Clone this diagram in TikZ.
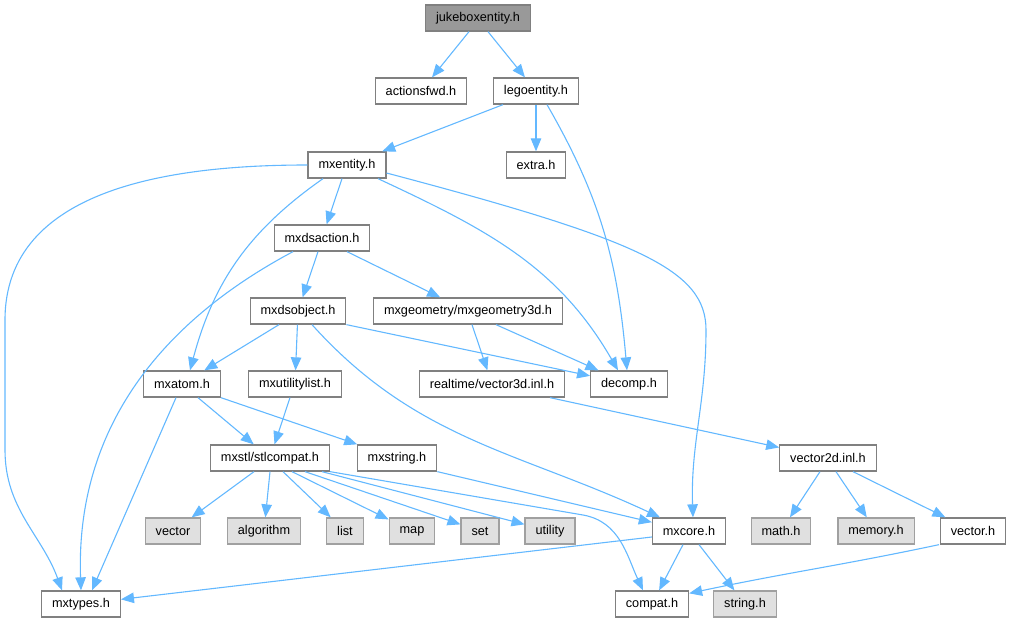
\documentclass[tikz,border=0pt]{standalone}
\usepackage{fontspec}
\setmainfont{Liberation Sans}
\usetikzlibrary{arrows.meta}
\definecolor{edgeblue}{HTML}{63B8FF}
\definecolor{boxline}{HTML}{808080}
\definecolor{sysline}{HTML}{A0A0A0}
\definecolor{sysfill}{HTML}{E0E0E0}
\definecolor{topfill}{HTML}{999999}
\tikzset{
  hdr/.style={draw=boxline, fill=white, line width=1.3pt, minimum height=26pt, inner xsep=10.4pt, inner ysep=0pt, font=\fontsize{12.7}{15}\selectfont},
  syshdr/.style={hdr, draw=sysline, fill=sysfill},
  tophdr/.style={hdr, fill=topfill},
  edge/.style={draw=edgeblue, line width=1.1pt, -{Triangle[length=13pt,width=10.5pt]}}
}
\begin{document}
\begin{tikzpicture}[x=1pt, y=1pt]
\useasboundingbox (0,0) rectangle (1013,-623);

% header files
\node[tophdr] (juke) at (478,-18) {jukeboxentity.h};
\node[hdr] (actfwd) at (421,-91) {actionsfwd.h};
\node[hdr] (lego) at (536,-91) {legoentity.h};
\node[hdr] (mxent) at (347,-165) {mxentity.h};
\node[hdr] (extra) at (536,-165) {extra.h};
\node[hdr] (dsact) at (322,-238) {mxdsaction.h};
\node[hdr] (dsobj) at (298,-311) {mxdsobject.h};
\node[hdr] (geom3d) at (468,-311) {mxgeometry/mxgeometry3d.h};
\node[hdr] (atom) at (182,-384) {mxatom.h};
\node[hdr] (utillist) at (295,-384) {mxutilitylist.h};
\node[hdr] (vec3d) at (492,-384) {realtime/vector3d.inl.h};
\node[hdr] (decomp) at (629,-384) {decomp.h};
\node[hdr] (stl) at (270,-458) {mxstl/stlcompat.h};
\node[hdr] (mxstr) at (397,-458) {mxstring.h};
\node[hdr] (vec2d) at (828,-458) {vector2d.inl.h};
\node[hdr] (mxcore) at (689,-531) {mxcore.h};
\node[hdr] (vech) at (973,-531) {vector.h};
\node[hdr] (mxtypes) at (81,-604) {mxtypes.h};
\node[hdr] (compat) at (652,-604) {compat.h};

% system headers
\node[syshdr] (vector) at (173,-531) {vector};
\node[syshdr] (algorithm) at (264,-531) {algorithm};
\node[syshdr] (list) at (345,-531) {list};
\node[syshdr] (map) at (412,-531) {map};
\node[syshdr] (set) at (480,-531) {set};
\node[syshdr] (utility) at (550,-531) {utility};
\node[syshdr] (math) at (781,-531) {math.h};
\node[syshdr] (memory) at (876,-531) {memory.h};
\node[syshdr] (string) at (745,-604) {string.h};

% includes
\draw[edge] ([xshift=-9pt]juke.south) -- (actfwd);
\draw[edge] ([xshift=10pt]juke.south) -- (lego);
\draw[edge] ([xshift=-33pt]lego.south) -- (mxent);
\draw[edge] (lego) -- (extra);
\draw[edge] ([xshift=11pt]lego.south) to[out=-60,in=95] ([xshift=-2pt]decomp.north);

\draw[edge] (mxent.west) to[out=180,in=90] (5,-320) -- (5,-450) to[out=-90,in=110] ([xshift=-19pt]mxtypes.north);
\draw[edge] ([xshift=-24pt]mxent.south) to[out=-145,in=75] ([xshift=8pt]atom.north);
\draw[edge] ([xshift=-5pt]mxent.south) -- (dsact);
\draw[edge] ([xshift=31pt]mxent.south) to[out=-25,in=120] ([xshift=-11pt]decomp.north);
\draw[edge] ([yshift=-8pt]mxent.east) .. controls (640,-240) and (706,-270) .. (706,-330) to[out=-90,in=92] ([xshift=4pt]mxcore.north);

\draw[edge] ([xshift=-29pt]dsact.south) to[out=-152,in=92] (mxtypes.north);
\draw[edge] ([xshift=-4pt]dsact.south) -- (dsobj);
\draw[edge] ([xshift=25pt]dsact.south) -- (geom3d);

\draw[edge] ([xshift=-19pt]dsobj.south) -- (atom);
\draw[edge] (dsobj) -- (utillist);
\draw[edge] (dsobj.south east) -- (decomp);
\draw[edge] ([xshift=14pt]dsobj.south) to[out=-48,in=155] ([xshift=-29pt]mxcore.north);

\draw[edge] ([xshift=4pt]geom3d.south) -- (vec3d);
\draw[edge] ([xshift=28pt]geom3d.south) -- (decomp);

\draw[edge] ([xshift=-6pt]atom.south) -- ([xshift=11pt]mxtypes.north);
\draw[edge] ([xshift=16pt]atom.south) -- (stl);
\draw[edge] (atom.south east) -- (mxstr);
\draw[edge] ([xshift=-5pt]utillist.south) -- (stl);
\draw[edge] ([xshift=58pt]vec3d.south) -- (vec2d);

\foreach \n/\s in {vector/-16, algorithm/0, list/13, map/22, set/35, utility/52}
{
    \draw[edge] ([xshift=\s pt]stl.south) -- (\n);
}
\draw[edge] (stl.south east) -- (583,-515) to[out=-10,in=115] ([xshift=-9pt]compat.north);
\draw[edge] (mxstr.south east) -- (mxcore);

\draw[edge] ([xshift=-8pt]vec2d.south) -- (math);
\draw[edge] ([xshift=8pt]vec2d.south) -- (memory);
\draw[edge] ([xshift=25pt]vec2d.south) -- (vech);

\draw[edge] ([yshift=-6pt]mxcore.west) -- (mxtypes);
\draw[edge] ([xshift=-6pt]mxcore.south) -- (compat);
\draw[edge] ([xshift=10pt]mxcore.south) -- (string);
\draw[edge] ([xshift=-34pt]vech.south) to[out=-168,in=12] ([yshift=-3pt]compat.north east);

\end{tikzpicture}
\end{document}
